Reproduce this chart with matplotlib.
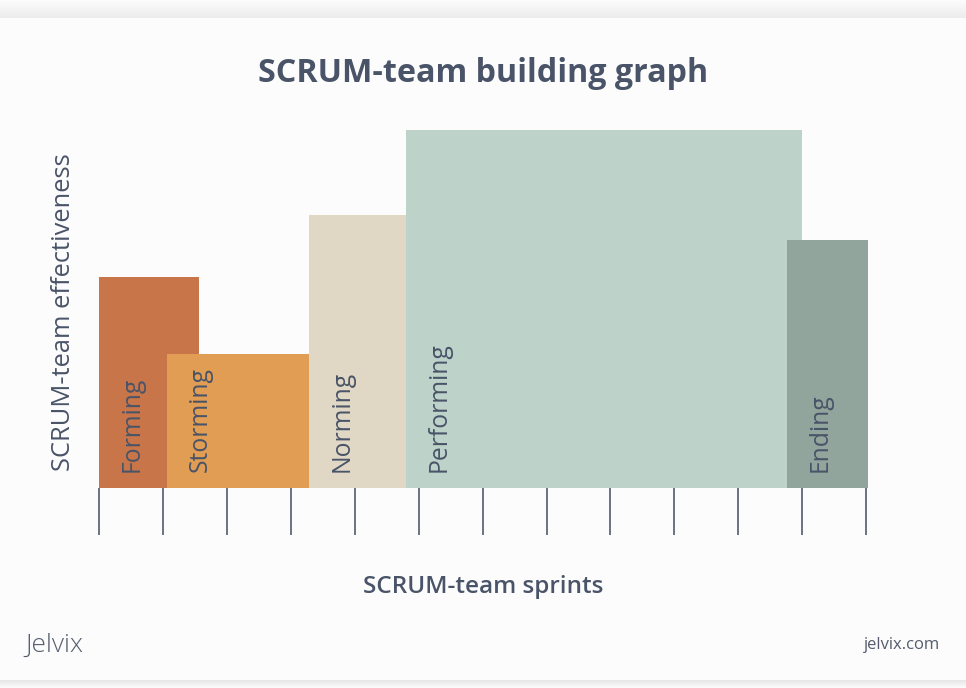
import matplotlib
matplotlib.use("Agg")
import matplotlib.pyplot as plt
from matplotlib.patches import Rectangle
import numpy as np

# ---- data ----
phases = ["Forming", "Storming", "Norming", "Performing", "Ending"]
phase_start = [0.0, 1.06, 3.28, 4.80, 10.76]     # sprint where phase starts
phase_end = [1.56, 3.28, 4.80, 11.0, 12.03]      # sprint where phase ends
effectiveness = [59.0, 37.4, 76.3, 100.0, 69.3]  # relative effectiveness
sprint_ticks = list(range(0, 13))

colors = ["#C8754A", "#E09D53", "#E0D8C5", "#BDD3C9", "#91A59D"]
text_color = "#4A5468"
tick_color = "#5F6879"

plt.rcParams['font.family'] = ['Open Sans', 'DejaVu Sans']

W, H = 966, 688
fig = plt.figure(figsize=(W / 100, H / 100), dpi=100, facecolor="#FCFCFC")

# background shadows at top and bottom edge
bg = fig.add_axes([0, 0, 1, 1], zorder=-10)
bg.axis("off")
grad = np.linspace(0, 1, 50).reshape(-1, 1)
bg.imshow(grad, extent=[0, 1, 1 - 18 / H, 1], aspect="auto",
          cmap=matplotlib.colors.LinearSegmentedColormap.from_list("g", ["#FCFCFC", "#ECECEC"]))
bg.imshow(grad[::-1], extent=[0, 1, 0, 8 / H], aspect="auto",
          cmap=matplotlib.colors.LinearSegmentedColormap.from_list("g2", ["#FCFCFC", "#E6E6E6"]))
bg.set_xlim(0, 1); bg.set_ylim(0, 1)

x0_px, x1_px = 99.3, 866.0
base_px, top_px = 488.0, 130.0
ax = fig.add_axes([x0_px / W, 1 - base_px / H, (x1_px - x0_px) / W, (base_px - top_px) / H])
ax.set_facecolor("none")
ax.set_xlim(0, 12)
ax.set_ylim(0, 100)

for name, s, e, v, c in zip(phases, phase_start, phase_end, effectiveness, colors):
    ax.add_patch(Rectangle((s, 0), e - s, v, facecolor=c, edgecolor="none", clip_on=False))
    ax.text(s + 0.52, 4.5, name, rotation=90, ha="center", va="bottom",
            fontsize=17.8, color=text_color)

for sp in ax.spines.values():
    sp.set_visible(False)
ax.set_yticks([])
ax.set_xticks(sprint_ticks)
ax.set_xticklabels([])
ax.tick_params(axis="x", direction="out", length=34, width=1.3, color=tick_color, pad=0)

fig.text(483 / W, 1 - 73 / H, "SCRUM-team building graph", ha="center", va="center",
         fontsize=23.2, fontweight="bold", color=text_color)
fig.text(64 / W, 1 - 312 / H, "SCRUM-team effectiveness", ha="center", va="center",
         rotation=90, fontsize=18.4, color=text_color)
fig.text(483 / W, 1 - 587 / H, "SCRUM-team sprints", ha="center", va="center",
         fontsize=17.5, color=text_color, fontweight="semibold")
fig.text(25 / W, 1 - 645 / H, "Jelvix", ha="left", va="center",
         fontsize=19, color="#555D6E", fontweight="light")
fig.text(940 / W, 1 - 645 / H, "jelvix.com", ha="right", va="center",
         fontsize=12, color="#555D6E")

fig.savefig("out.png", dpi=100, facecolor=fig.get_facecolor())
